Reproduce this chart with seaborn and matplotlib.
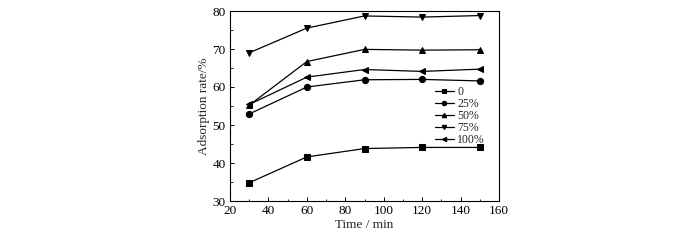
import matplotlib
matplotlib.use("Agg")
import matplotlib.pyplot as plt
import seaborn as sns
import pandas as pd
from matplotlib.ticker import MultipleLocator

sns.set_theme(style="ticks")
plt.rcParams['font.family'] = ['Liberation Serif', 'DejaVu Serif']

time = [30, 60, 90, 120, 150]
series_names = ["0", "25%", "50%", "75%", "100%"]
v0 = [34.8, 41.6, 43.8, 44.1, 44.1]
v25 = [52.9, 60.0, 61.9, 62.0, 61.6]
v50 = [55.2, 66.7, 69.9, 69.7, 69.8]
v75 = [69.0, 75.5, 78.7, 78.4, 78.8]
v100 = [55.4, 62.6, 64.6, 64.1, 64.7]
markers = ["s", "o", "^", "v", "<"]

rows = []
for name, vals in zip(series_names, [v0, v25, v50, v75, v100]):
    for t, v in zip(time, vals):
        rows.append({"Time": t, "Rate": v, "Series": name})
df = pd.DataFrame(rows)

fig = plt.figure(figsize=(7, 2.4), dpi=100)
ax = fig.add_axes([230/700, 1 - 201/240, (499-230)/700, (201-11)/240])

sns.lineplot(data=df, x="Time", y="Rate", hue="Series", style="Series",
             palette=["black"]*5, markers=markers, dashes=False,
             markersize=4.5, linewidth=0.9, markeredgecolor="black", ax=ax)

ax.set_xlim(20, 160)
ax.set_ylim(30, 80)
ax.xaxis.set_major_locator(MultipleLocator(20))
ax.xaxis.set_minor_locator(MultipleLocator(10))
ax.yaxis.set_major_locator(MultipleLocator(10))
ax.yaxis.set_minor_locator(MultipleLocator(5))
ax.tick_params(which="both", direction="in", labelsize=9.5, colors="black",
               top=False, right=False)
ax.tick_params(axis="x", pad=3)
ax.tick_params(axis="y", pad=3)
ax.tick_params(which="major", length=3, width=0.7)
ax.tick_params(which="minor", length=1.8, width=0.6)
for s in ax.spines.values():
    s.set_linewidth(0.8)
    s.set_color("black")
ax.set_xlabel("Time / min", fontsize=9.5, labelpad=1)
ax.set_ylabel("Adsorption rate/%", fontsize=9.5, labelpad=2)

leg = ax.legend(loc="upper left", bbox_to_anchor=(0.735, 0.64), frameon=False,
                fontsize=8.5, handlelength=1.6, handletextpad=0.3,
                labelspacing=0.0, borderpad=0.1)
for line in leg.get_lines():
    line.set_markersize(3.2)

fig.savefig("out.png", dpi=100)
